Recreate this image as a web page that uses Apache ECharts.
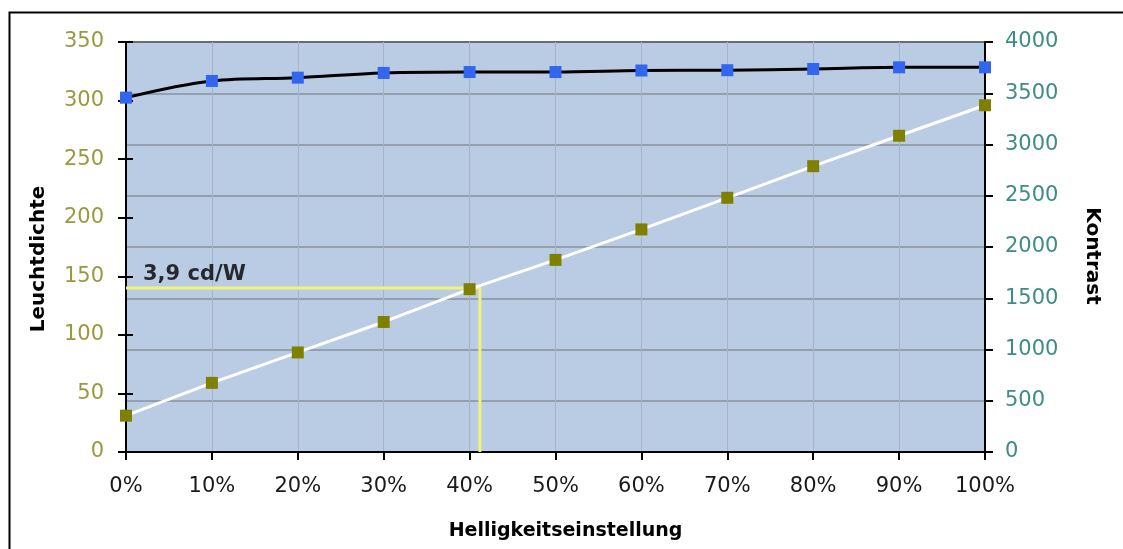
<!DOCTYPE html>
<html>
<head>
<meta charset="utf-8">
<style>html,body{margin:0;padding:0;background:#fff;}#c{width:1123px;height:549px;}</style>
<script src="https://cdn.jsdelivr.net/npm/echarts@6/dist/echarts.min.js"></script>
</head>
<body>
<div id="c"></div>
<script>
// x positions (brightness setting, %)
const xValues = [0, 10, 20, 30, 40, 50, 60, 70, 80, 90, 100];
// Leuchtdichte (left axis, cd/m²)
const leuchtdichte = [31, 59, 85, 111, 139, 164, 190, 217, 244, 270, 296];
// Kontrast (right axis)
const kontrast = [3457, 3620, 3652, 3698, 3707, 3707, 3722, 3725, 3737, 3753, 3753];
// annotation
const annoX = 41.2;
const annoY = 140;
const annoText = '3,9 cd/W';

const chart = echarts.init(document.getElementById('c'));
const font = 'DejaVu Sans';
chart.setOption({
  animation: false,
  graphic: [{
    type: 'rect', left: 7, top: 10, silent: true,
    shape: { width: 1200, height: 600 },
    style: { fill: 'none', stroke: '#000', lineWidth: 2 }
  }],
  grid: { left: 126, right: 138, top: 42, bottom: 97, show: true,
          backgroundColor: '#b9cce4', borderColor: '#000', borderWidth: 2 },
  xAxis: {
    type: 'value', min: 0, max: 100, interval: 10,
    name: 'Helligkeitseinstellung', nameLocation: 'middle', nameGap: 70,
    nameTextStyle: { fontFamily: font, fontWeight: 'bold', fontSize: 19, color: '#000', padding: [0, 0, 0, 20] },
    axisLine: { lineStyle: { color: '#000', width: 2 } },
    axisTick: { length: 8, lineStyle: { color: '#000', width: 2 } },
    axisLabel: { formatter: '{value}%', fontFamily: font, fontSize: 21, color: '#1a1a1a', margin: 24 },
    splitLine: { show: true, lineStyle: { color: '#a7b4c6', width: 1 } }
  },
  yAxis: [{
    type: 'value', position: 'left', min: 0, max: 350, interval: 50,
    name: 'Leuchtdichte', nameLocation: 'middle', nameGap: 77,
    nameTextStyle: { fontFamily: font, fontWeight: 'bold', fontSize: 20, color: '#000', padding: [0, 24, 0, 0] },
    axisLine: { show: true, lineStyle: { color: '#000', width: 2 } },
    axisTick: { show: true, length: 8, lineStyle: { color: '#000', width: 2 } },
    axisLabel: { fontFamily: font, fontSize: 21, color: '#999940', margin: 22, formatter: v => String(v) },
    splitLine: { show: false }
  }, {
    type: 'value', position: 'right', min: 0, max: 4000, interval: 500,
    name: 'Kontrast', nameLocation: 'middle', nameGap: 97, nameRotate: -90,
    nameTextStyle: { fontFamily: font, fontWeight: 'bold', fontSize: 20, color: '#000', padding: [0, 0, 0, 18] },
    axisLine: { show: true, lineStyle: { color: '#000', width: 2 } },
    axisTick: { show: true, length: 8, lineStyle: { color: '#000', width: 2 } },
    axisLabel: { fontFamily: font, fontSize: 21, color: '#3d8c85', margin: 20, formatter: v => String(v) },
    splitLine: { show: true, lineStyle: { color: '#8a929e', width: 1.5 } }
  }, {
    type: 'value', position: 'left', min: 0, max: 350, interval: 50,
    axisLine: { show: false },
    axisTick: { show: true, inside: true, length: 7, lineStyle: { color: '#000', width: 2 } },
    axisLabel: { show: false },
    splitLine: { show: false }
  }],
  series: [{
    type: 'line', yAxisIndex: 0, z: 3,
    data: [[0, annoY], [annoX, annoY], [annoX, 0]],
    showSymbol: false, symbol: 'none',
    lineStyle: { color: '#f2f27a', width: 3 }
  }, {
    type: 'scatter', yAxisIndex: 0, z: 6,
    data: [[0, annoY]], symbolSize: 0,
    label: { show: true, formatter: annoText, position: 'right', distance: 17, offset: [0, -13],
             fontFamily: font, fontWeight: 'bold', fontSize: 21, color: '#000' }
  }, {
    type: 'line', yAxisIndex: 0, z: 4,
    data: xValues.map((x, i) => [x, leuchtdichte[i]]),
    symbol: 'rect', symbolSize: 12,
    itemStyle: { color: '#808000' },
    lineStyle: { color: '#ffffff', width: 3 }
  }, {
    type: 'line', yAxisIndex: 1, z: 5, smooth: 0.35,
    data: xValues.map((x, i) => [x, kontrast[i]]),
    symbol: 'rect', symbolSize: 12,
    itemStyle: { color: '#3366ee' },
    lineStyle: { color: '#000000', width: 3 }
  }]
});
</script>
</body>
</html>
